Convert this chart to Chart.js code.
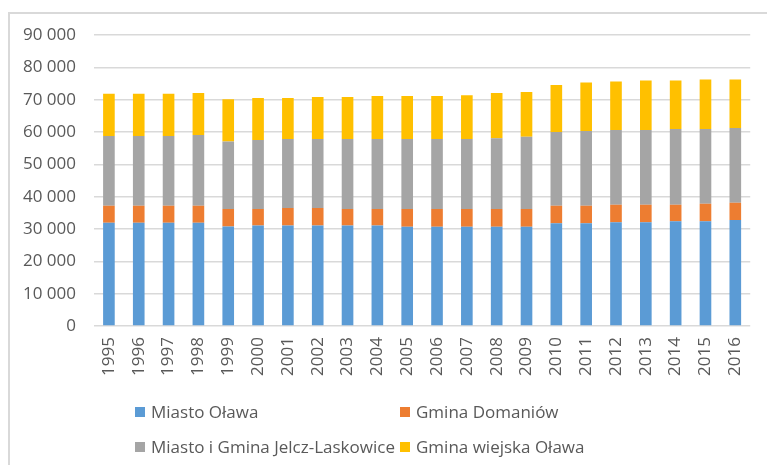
<!DOCTYPE html>
<html>
<head>
<meta charset="utf-8">
<script src="https://cdn.jsdelivr.net/npm/chart.js@4/dist/chart.umd.min.js"></script>
<style>
  html, body { margin: 0; padding: 0; background: #fff; overflow: hidden; }
  #wrap { position: relative; width: 767px; height: 465px; }
  #frame {
    position: absolute; left: 8px; top: 12px; width: 800px; height: 500px;
    border-left: 2px solid #d9d9d9; border-top: 2px solid #d9d9d9;
  }
  #chart { position: absolute; left: 0; top: 0; }
  #legend {
    position: absolute; left: 135px; top: 400px;
    display: grid; grid-template-columns: 265px 220px; row-gap: 12px;
    font-family: "Open Sans", sans-serif; font-size: 17px; color: #595959;
  }
  .item { display: flex; align-items: center; height: 23px; white-space: nowrap; }
  .box { width: 10px; height: 10px; margin-right: 6px; }
</style>
</head>
<body>
<div id="wrap">
  <div id="frame"></div>
  <canvas id="chart" width="767" height="465"></canvas>
  <div id="legend"></div>
</div>
<script>
const years = ["1995", "1996", "1997", "1998", "1999", "2000", "2001", "2002", "2003", "2004", "2005",
  "2006", "2007", "2008", "2009", "2010", "2011", "2012", "2013", "2014", "2015", "2016"];

const seriesNames = ["Miasto Oława", "Gmina Domaniów", "Miasto i Gmina Jelcz-Laskowice", "Gmina wiejska Oława"];
const seriesColors = ["#5b9bd5", "#ed7d31", "#a5a5a5", "#ffc000"];

const miastoOlawa = [31900, 31900, 31900, 31900, 30800, 31100, 31100, 31100, 31100, 31100, 30700,
  30700, 30700, 30700, 30700, 31800, 31800, 32100, 32100, 32400, 32400, 32800];
const gminaDomaniow = [5300, 5300, 5300, 5300, 5400, 5100, 5400, 5400, 5100, 5100, 5500,
  5500, 5500, 5500, 5500, 5400, 5400, 5400, 5400, 5100, 5400, 5300];
const jelczLaskowice = [21600, 21600, 21600, 21900, 20900, 21300, 21300, 21300, 21600, 21600, 21600,
  21600, 21600, 21900, 22300, 22800, 23100, 23100, 23100, 23400, 23100, 23100];
const gminaWiejskaOlawa = [13000, 13000, 13000, 13000, 13000, 13000, 12700, 13000, 13000, 13300, 13300,
  13300, 13600, 14000, 13900, 14500, 15000, 15000, 15300, 15000, 15300, 15000];

const yTicks = { min: 0, max: 90000, step: 10000 };

(function () {
  function fmt(v) {
    return String(v).replace(/\B(?=(\d{3})+(?!\d))/g, " ");
  }

  function initChart() {
    const font = { family: "'Open Sans', sans-serif", size: 17 };
    const values = [miastoOlawa, gminaDomaniow, jelczLaskowice, gminaWiejskaOlawa];

    const chart = new Chart(document.getElementById("chart"), {
      type: "bar",
      data: {
        labels: years,
        datasets: values.map((data, i) => ({
          label: seriesNames[i],
          data: data,
          backgroundColor: seriesColors[i],
          borderWidth: 0,
          barPercentage: 0.39,
          categoryPercentage: 1,
        })),
      },
      options: {
        responsive: false,
        animation: false,
        layout: { padding: { top: 35, right: 13, left: 0, bottom: 0 } },
        plugins: {
          legend: { display: false },
          tooltip: { enabled: false },
        },
        scales: {
          x: {
            stacked: true,
            grid: { display: false, drawTicks: false },
            border: { display: false },
            ticks: { color: "#595959", font: font, minRotation: 90, maxRotation: 90, padding: 11, autoSkip: false },
            afterFit: (s) => { s.height = 139; },
          },
          y: {
            stacked: true,
            min: yTicks.min,
            max: yTicks.max,
            grid: { color: "#d9d9d9", lineWidth: 1.5, drawTicks: false },
            border: { display: false },
            ticks: { stepSize: yTicks.step, color: "#595959", font: font, padding: 18, callback: fmt },
            afterFit: (s) => { s.width = 94; },
          },
        },
      },
    });

    // legend in two columns, like the original
    const legend = document.getElementById("legend");
    chart.data.datasets.forEach((ds) => {
      const item = document.createElement("div");
      item.className = "item";
      const box = document.createElement("span");
      box.className = "box";
      box.style.background = ds.backgroundColor;
      const txt = document.createElement("span");
      txt.textContent = ds.label;
      item.appendChild(box);
      item.appendChild(txt);
      legend.appendChild(item);
    });
  }

  if (document.readyState === "loading")
    document.addEventListener("DOMContentLoaded", initChart);
  else initChart();
})();
</script>
</body>
</html>
